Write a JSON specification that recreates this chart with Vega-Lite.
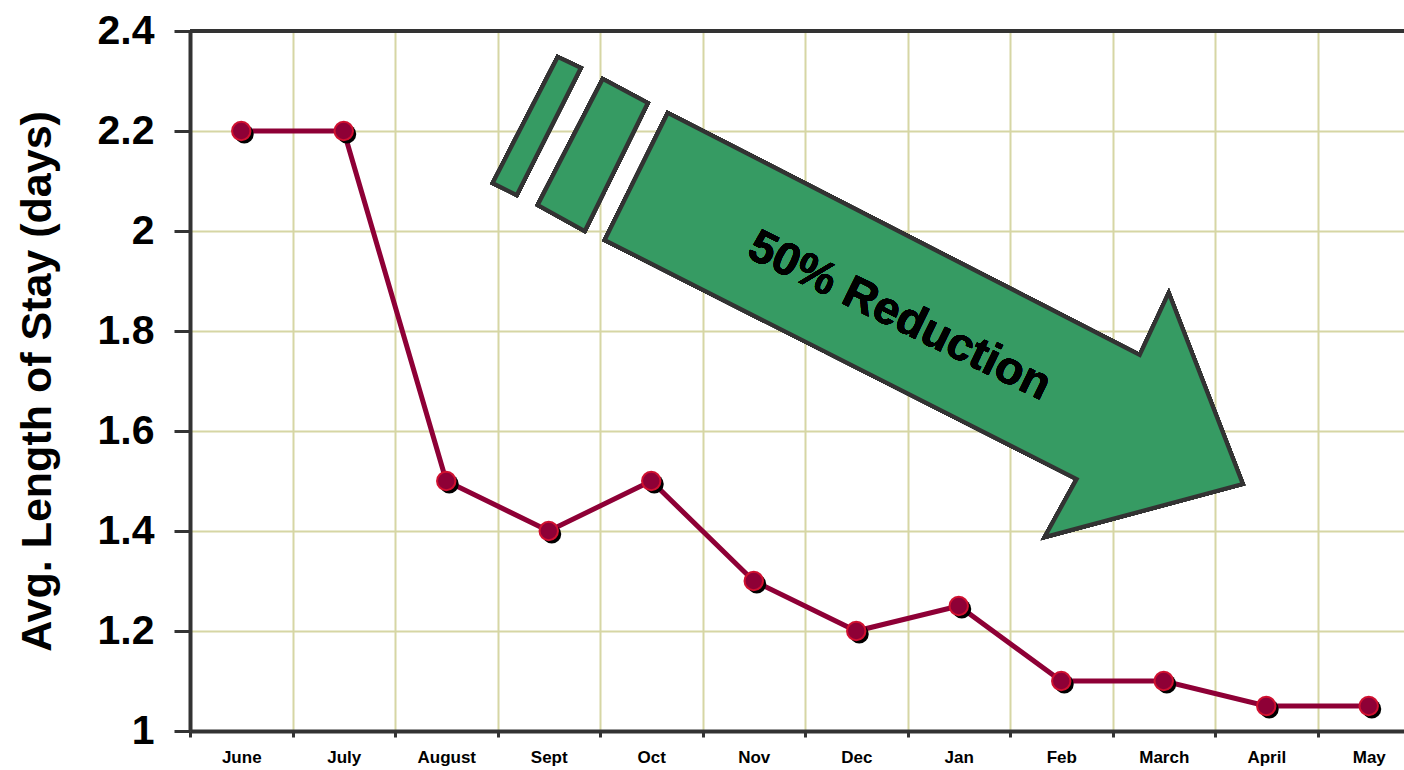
{
  "$schema": "https://vega.github.io/schema/vega-lite/v6.json",
  "width": 1214,
  "height": 700,
  "autosize": {"type": "none"},
  "padding": {"left": 190, "top": 31, "right": 0, "bottom": 39},
  "background": "white",
  "config": {"view": {"stroke": null}, "font": "Liberation Sans"},
  "data": {
    "values": [
      {"month": "June", "los": 2.2},
      {"month": "July", "los": 2.2},
      {"month": "August", "los": 1.5},
      {"month": "Sept", "los": 1.4},
      {"month": "Oct", "los": 1.5},
      {"month": "Nov", "los": 1.3},
      {"month": "Dec", "los": 1.2},
      {"month": "Jan", "los": 1.25},
      {"month": "Feb", "los": 1.1},
      {"month": "March", "los": 1.1},
      {"month": "April", "los": 1.05},
      {"month": "May", "los": 1.05}
    ]
  },
  "layer": [
    {
      "mark": {"type": "line", "color": "#8e0036", "strokeWidth": 5},
      "encoding": {
        "x": {
          "field": "month", "type": "nominal", "sort": null, "bandPosition": 0.5,
          "scale": {"type": "band", "range": [0, 1230], "paddingInner": 0, "paddingOuter": 0},
          "axis": {
            "title": null, "labelAngle": 0, "tickBand": "extent",
            "grid": true, "gridColor": "#d6d6a4", "gridWidth": 2,
            "domainColor": "#333333", "domainWidth": 4,
            "tickColor": "#333333", "tickWidth": 3, "tickSize": 6,
            "labelFontSize": 17, "labelFontWeight": "bold", "labelColor": "black", "labelPadding": 12
          }
        },
        "y": {
          "field": "los", "type": "quantitative",
          "scale": {"domain": [1, 2.4], "nice": false, "zero": false},
          "axis": {
            "values": [1, 1.2, 1.4, 1.6, 1.8, 2, 2.2, 2.4], "format": "~g",
            "grid": true, "gridColor": "#d6d6a4", "gridWidth": 2,
            "domainColor": "#333333", "domainWidth": 4,
            "tickColor": "#333333", "tickWidth": 3, "tickSize": 16,
            "labelFontSize": 41, "labelFontWeight": "bold", "labelColor": "black", "labelPadding": 20,
            "title": "Avg. Length of Stay (days)", "titleFontSize": 43, "titleFontWeight": "bold",
            "titleColor": "black", "titlePadding": 38
          }
        }
      }
    },
    {
      "mark": {"type": "rule", "color": "#333333", "strokeWidth": 4},
      "encoding": {"y": {"datum": 2.4}}
    },
    {
      "mark": {"type": "point", "filled": true, "color": "black", "size": 360, "opacity": 1, "xOffset": 3, "yOffset": 3},
      "encoding": {
        "x": {"field": "month", "type": "nominal", "sort": null, "bandPosition": 0.5},
        "y": {"field": "los", "type": "quantitative"}
      }
    },
    {
      "mark": {"type": "point", "filled": true, "fill": "#8e0036", "stroke": "#d01030", "strokeWidth": 2, "size": 340, "opacity": 1},
      "encoding": {
        "x": {"field": "month", "type": "nominal", "sort": null, "bandPosition": 0.5},
        "y": {"field": "los", "type": "quantitative"}
      }
    },
    {
      "mark": {
        "type": "point", "filled": true, "fill": "#369b63", "stroke": "#333333", "strokeWidth": 4, "opacity": 1, "fillOpacity": 1,
        "size": 4,
        "shape": "M-86,-218L386,24L415,-38L489,153L291,206L323,148L-149,-91Z M-196,-274L-173,-263L-237,-136L-261,-148Z M-151,-252L-106,-228L-169,-100L-216,-126Z"
      },
      "encoding": {
        "x": {"datum": "Nov", "bandPosition": 0.5},
        "y": {"datum": 1.8}
      }
    },
    {
      "mark": {"type": "text", "text": "50% Reduction", "angle": 26, "fontSize": 46, "fontWeight": "bold", "color": "black", "align": "center", "baseline": "middle", "dx": 39, "dy": -19},
      "encoding": {
        "x": {"datum": "Dec", "bandPosition": 0.5},
        "y": {"datum": 1.83}
      }
    }
  ]
}
